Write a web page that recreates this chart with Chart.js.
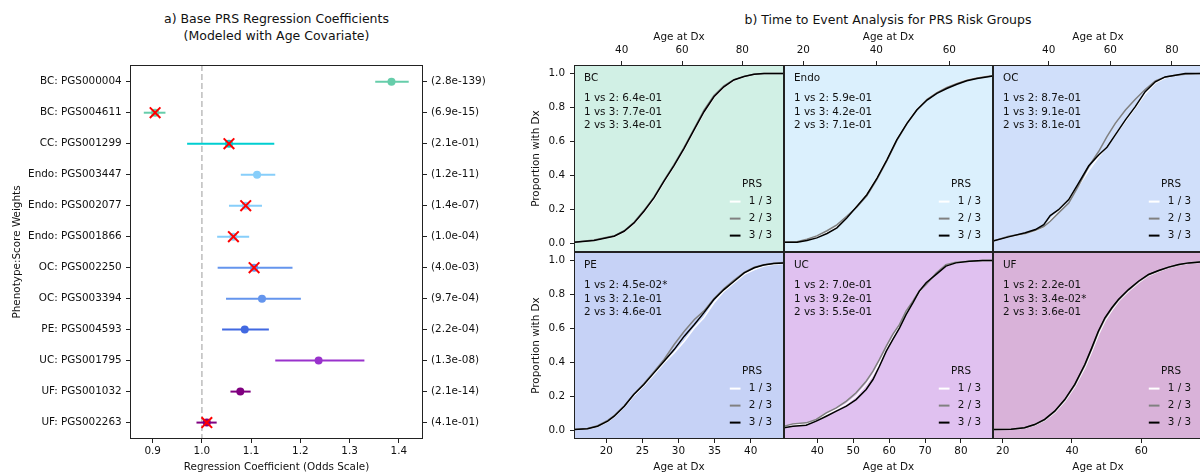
<!DOCTYPE html>
<html><head><meta charset="utf-8">
<script src="https://cdn.jsdelivr.net/npm/chart.js@4.4.0/dist/chart.umd.min.js"></script>
<style>
html,body{margin:0;padding:0;background:#fff;overflow:hidden;}
#wrap{position:relative;width:1200px;height:474px;overflow:hidden;font-family:'DejaVu Sans',sans-serif;background:#fff;}
canvas{position:absolute;}
.ttl{position:absolute;font-size:12.5px;line-height:16.7px;text-align:center;color:#111;white-space:nowrap;}
</style></head><body>
<div id="wrap">
<div class="ttl" style="left:0;width:553px;top:11px;">a) Base PRS Regression Coefficients<br>(Modeled with Age Covariate)</div>
<div class="ttl" style="left:588px;width:600px;top:11.7px;">b) Time to Event Analysis for PRS Risk Groups</div>
<canvas id="forest" width="515" height="474" style="left:0;top:0;width:515px;height:474px"></canvas>
<canvas id="kmBC" width="264" height="252" style="left:520px;top:0;width:264px;height:252px"></canvas>
<canvas id="kmEndo" width="209" height="252" style="left:784px;top:0;width:209px;height:252px"></canvas>
<canvas id="kmOC" width="210" height="252" style="left:993px;top:0;width:210px;height:252px"></canvas>
<canvas id="kmPE" width="264" height="222" style="left:520px;top:252px;width:264px;height:222px"></canvas>
<canvas id="kmUC" width="209" height="222" style="left:784px;top:252px;width:209px;height:222px"></canvas>
<canvas id="kmUF" width="210" height="222" style="left:993px;top:252px;width:210px;height:222px"></canvas>
</div>
<script>
// ---------------- DATA: panel a (forest plot) ----------------
const forestLabels = ['BC: PGS000004','BC: PGS004611','CC: PGS001299','Endo: PGS003447','Endo: PGS002077','Endo: PGS001866','OC: PGS002250','OC: PGS003394','PE: PGS004593','UC: PGS001795','UF: PGS001032','UF: PGS002263'];
const forestPvals = ['(2.8e-139)','(6.9e-15)','(2.1e-01)','(1.2e-11)','(1.4e-07)','(1.0e-04)','(4.0e-03)','(9.7e-04)','(2.2e-04)','(1.3e-08)','(2.1e-14)','(4.1e-01)'];
const forestPheno = ['BC','BC','CC','Endo','Endo','Endo','OC','OC','PE','UC','UF','UF'];
const forestCoef = [1.385, 0.905, 1.055, 1.112, 1.089, 1.064, 1.106, 1.122, 1.087, 1.237, 1.078, 1.010];
const forestLow  = [1.352, 0.882, 0.970, 1.079, 1.055, 1.031, 1.032, 1.049, 1.041, 1.149, 1.058, 0.989];
const forestHigh = [1.420, 0.926, 1.147, 1.149, 1.122, 1.096, 1.184, 1.201, 1.136, 1.330, 1.099, 1.030];
const forestFlag = [false, true, true, false, true, true, true, false, false, false, false, true];
const forestXTicks = [0.9, 1.0, 1.1, 1.2, 1.3, 1.4];
const nullOdds = 1.0;

// ---------------- DATA: panel b (time to event) ----------------
const prsGroups = ['1 / 3', '2 / 3', '3 / 3'];
const propTicks = [0, 0.2, 0.4, 0.6, 0.8, 1.0];

const bcAge  = [24.2, 30.8, 37.5, 40.8, 44.1, 47.4, 50.7, 54.0, 57.3, 60.7, 64.0, 67.3, 70.6, 73.9, 77.2, 80.6, 83.9, 87.2, 93.8];
const bcPRS1 = [0.007, 0.017, 0.040, 0.068, 0.117, 0.185, 0.262, 0.360, 0.452, 0.555, 0.662, 0.770, 0.857, 0.918, 0.960, 0.981, 0.994, 1.0, 1.0];
const bcPRS2 = [0.008, 0.020, 0.045, 0.075, 0.125, 0.195, 0.273, 0.370, 0.462, 0.566, 0.675, 0.784, 0.870, 0.927, 0.964, 0.983, 0.995, 1.0, 1.0];
const bcPRS3 = [0.008, 0.018, 0.043, 0.072, 0.121, 0.190, 0.268, 0.365, 0.457, 0.560, 0.668, 0.775, 0.863, 0.922, 0.962, 0.982, 0.995, 1.0, 1.0];
const bcTests = ['1 vs 2: 6.4e-01', '1 vs 3: 7.7e-01', '2 vs 3: 3.4e-01'];
const bcAgeTicks = [40, 60, 80];

const endoAge  = [14.7, 18.3, 21.0, 23.7, 26.5, 29.2, 31.9, 34.7, 37.4, 40.2, 42.9, 45.6, 48.4, 51.1, 53.9, 56.6, 59.3, 62.1, 64.8, 67.6, 72.0];
const endoPRS1 = [0.008, 0.009, 0.020, 0.038, 0.065, 0.098, 0.152, 0.222, 0.292, 0.390, 0.497, 0.612, 0.710, 0.790, 0.850, 0.890, 0.920, 0.944, 0.963, 0.977, 0.990];
const endoPRS2 = [0.008, 0.010, 0.025, 0.045, 0.075, 0.110, 0.160, 0.215, 0.280, 0.378, 0.487, 0.605, 0.705, 0.787, 0.848, 0.888, 0.918, 0.942, 0.960, 0.974, 0.988];
const endoPRS3 = [0.008, 0.008, 0.018, 0.033, 0.059, 0.092, 0.150, 0.219, 0.287, 0.385, 0.492, 0.609, 0.707, 0.785, 0.844, 0.883, 0.912, 0.937, 0.957, 0.971, 0.986];
const endoTests = ['1 vs 2: 5.9e-01', '1 vs 3: 4.2e-01', '2 vs 3: 7.1e-01'];
const endoAgeTicks = [20, 40, 60];

const ocAge  = [21.9, 27.0, 32.4, 35.7, 38.4, 40.5, 43.2, 46.5, 49.7, 53.0, 56.2, 58.9, 61.6, 64.9, 68.1, 71.3, 74.6, 77.8, 81.1, 84.3, 89.5];
const ocPRS1 = [0.014, 0.039, 0.059, 0.075, 0.098, 0.140, 0.190, 0.260, 0.340, 0.430, 0.510, 0.570, 0.640, 0.720, 0.800, 0.880, 0.945, 0.975, 0.990, 0.998, 1.0];
const ocPRS2 = [0.014, 0.043, 0.059, 0.078, 0.100, 0.131, 0.180, 0.238, 0.340, 0.453, 0.541, 0.629, 0.707, 0.785, 0.848, 0.906, 0.957, 0.980, 0.990, 0.995, 1.0];
const ocPRS3 = [0.014, 0.039, 0.063, 0.082, 0.111, 0.164, 0.199, 0.258, 0.355, 0.457, 0.521, 0.566, 0.639, 0.727, 0.805, 0.893, 0.951, 0.980, 0.990, 1.0, 1.0];
const ocTests = ['1 vs 2: 8.7e-01', '1 vs 3: 9.1e-01', '2 vs 3: 8.1e-01'];
const ocAgeTicks = [40, 60, 80];

const peAge  = [15.5, 17.4, 18.8, 20.2, 21.1, 22.5, 23.8, 25.2, 26.6, 28.0, 29.4, 30.8, 32.2, 33.5, 34.9, 36.3, 37.7, 39.1, 40.5, 41.8, 43.2, 44.6];
const pePRS1 = [0.006, 0.010, 0.024, 0.052, 0.082, 0.140, 0.205, 0.265, 0.330, 0.398, 0.457, 0.525, 0.604, 0.663, 0.751, 0.820, 0.869, 0.918, 0.947, 0.967, 0.978, 0.983];
const pePRS2 = [0.006, 0.012, 0.028, 0.060, 0.088, 0.145, 0.212, 0.275, 0.345, 0.418, 0.506, 0.584, 0.653, 0.702, 0.775, 0.835, 0.885, 0.930, 0.960, 0.975, 0.984, 0.988];
const pePRS3 = [0.006, 0.010, 0.025, 0.055, 0.084, 0.143, 0.212, 0.271, 0.339, 0.408, 0.476, 0.555, 0.624, 0.692, 0.771, 0.829, 0.878, 0.927, 0.957, 0.973, 0.982, 0.986];
const peTests = ['1 vs 2: 4.5e-02*', '1 vs 3: 2.1e-01', '2 vs 3: 4.6e-01'];
const peAgeTicks = [20, 25, 30, 35, 40];

const ucAge  = [30.7, 33.2, 36.9, 39.7, 42.5, 45.3, 48.1, 50.8, 53.6, 55.5, 57.3, 59.2, 61.0, 62.9, 64.7, 66.6, 68.4, 70.3, 73.1, 75.8, 78.6, 82.3, 86.0, 88.9];
const ucPRS1 = [0.020, 0.031, 0.039, 0.059, 0.094, 0.124, 0.157, 0.202, 0.271, 0.329, 0.398, 0.476, 0.545, 0.614, 0.692, 0.755, 0.816, 0.863, 0.922, 0.971, 0.988, 0.996, 1.0, 1.0];
const ucPRS2 = [0.025, 0.039, 0.045, 0.065, 0.104, 0.133, 0.173, 0.222, 0.290, 0.349, 0.418, 0.496, 0.565, 0.624, 0.702, 0.761, 0.820, 0.859, 0.927, 0.976, 0.990, 0.996, 1.0, 1.0];
const ucPRS3 = [0.016, 0.025, 0.031, 0.055, 0.084, 0.114, 0.143, 0.182, 0.241, 0.300, 0.378, 0.467, 0.535, 0.604, 0.682, 0.751, 0.820, 0.869, 0.918, 0.967, 0.986, 0.996, 1.0, 1.0];
const ucTests = ['1 vs 2: 7.0e-01', '1 vs 3: 9.2e-01', '2 vs 3: 5.5e-01'];
const ucAgeTicks = [40, 50, 60, 70, 80];

const ufAge  = [17.2, 22.4, 26.3, 29.2, 32.1, 35.0, 37.9, 40.8, 43.7, 45.7, 47.6, 49.5, 51.5, 53.4, 56.3, 59.2, 62.1, 65.0, 67.9, 70.8, 73.7, 77.8];
const ufPRS1 = [0.006, 0.008, 0.015, 0.032, 0.060, 0.106, 0.172, 0.258, 0.370, 0.465, 0.562, 0.645, 0.707, 0.760, 0.820, 0.870, 0.912, 0.937, 0.958, 0.974, 0.985, 0.991];
const ufPRS2 = [0.006, 0.008, 0.016, 0.034, 0.063, 0.112, 0.179, 0.267, 0.383, 0.480, 0.578, 0.657, 0.717, 0.767, 0.826, 0.876, 0.916, 0.940, 0.960, 0.975, 0.986, 0.992];
const ufPRS3 = [0.006, 0.008, 0.016, 0.035, 0.065, 0.114, 0.182, 0.271, 0.388, 0.486, 0.584, 0.663, 0.722, 0.771, 0.829, 0.878, 0.918, 0.941, 0.961, 0.976, 0.986, 0.992];
const ufTests = ['1 vs 2: 2.2e-01', '1 vs 3: 3.4e-02*', '2 vs 3: 3.6e-01'];
const ufAgeTicks = [20, 40, 60];

// ---------------- STYLE ----------------
const phenoColors = {BC:'#66cdaa', CC:'#00ced1', Endo:'#87cefa', OC:'#6495ed', PE:'#4169e1', UC:'#9932cc', UF:'#800080'};
const phenoBg = {BC:'rgba(102,205,170,0.3)', Endo:'rgba(135,206,250,0.3)', OC:'rgba(100,149,237,0.3)', PE:'rgba(65,105,225,0.3)', UC:'rgba(153,50,204,0.3)', UF:'rgba(128,0,128,0.3)'};
const prsColors = ['#ffffff', '#808080', '#000000'];
const FONT = "'DejaVu Sans', sans-serif";
const FS = 10.42;

Chart.defaults.font.family = FONT;
Chart.defaults.font.size = FS;
Chart.defaults.color = '#111';
Chart.defaults.animation = false;

const frame = {
  id: 'frame',
  afterDatasetsDraw(chart) {
    const {ctx, chartArea: a} = chart;
    ctx.save();
    ctx.strokeStyle = '#222';
    ctx.lineWidth = 1;
    ctx.strokeRect(a.left + 0.5, a.top + 0.5, a.width - 1, a.height - 1);
    ctx.restore();
  }
};
const panelBg = {
  id: 'panelBg',
  beforeDraw(chart, args, opts) {
    if (!opts || !opts.color) return;
    const {ctx, chartArea: a} = chart;
    ctx.save();
    ctx.fillStyle = opts.color;
    ctx.fillRect(a.left, a.top, a.width, a.height);
    ctx.restore();
  }
};
const panelText = {
  id: 'panelText',
  afterDraw(chart, args, opts) {
    if (!opts || !opts.name) return;
    const {ctx, chartArea: a} = chart;
    ctx.save();
    ctx.font = FS + 'px ' + FONT;
    ctx.fillStyle = '#111';
    ctx.textBaseline = 'middle';
    ctx.textAlign = 'left';
    ctx.fillText(opts.name, a.left + 10, a.top + 13.3);
    opts.tests.forEach((t, i) => ctx.fillText(t, a.left + 10, a.top + 33.3 + i * 13.6));
    ctx.textAlign = 'center';
    ctx.fillText('PRS', a.right - 32, a.bottom - 67.6);
    chart.data.datasets.forEach((d, i) => {
      const y = a.bottom - 50.4 + i * 17;
      ctx.strokeStyle = d.borderColor;
      ctx.lineWidth = 2;
      ctx.beginPath();
      ctx.moveTo(a.right - 54.2, y);
      ctx.lineTo(a.right - 43.5, y);
      ctx.stroke();
      ctx.textAlign = 'left';
      ctx.fillStyle = '#111';
      ctx.fillText(d.label, a.right - 35.2, y);
    });
    ctx.restore();
  }
};

// ---------------- Panel a ----------------
(function(){
  const rows = forestLabels.map((_, i) => i);
  const yMin = -0.54, yMax = 11.53;
  const datasets = [];
  datasets.push({
    type: 'scatter', showLine: true, data: [{x: nullOdds, y: yMin}, {x: nullOdds, y: yMax}],
    borderColor: '#bdbdbd', borderWidth: 1.5, borderDash: [6, 3], pointRadius: 0, order: 10
  });
  rows.forEach(i => {
    datasets.push({
      type: 'scatter', showLine: true,
      data: [{x: forestLow[i], y: i}, {x: forestHigh[i], y: i}],
      borderColor: phenoColors[forestPheno[i]], borderWidth: 2, pointRadius: 0, order: 5
    });
  });
  datasets.push({
    type: 'scatter', data: rows.map(i => ({x: forestCoef[i], y: i})),
    pointBackgroundColor: rows.map(i => phenoColors[forestPheno[i]]),
    backgroundColor: rows.map(i => phenoColors[forestPheno[i]]),
    pointBorderWidth: 0, borderWidth: 0, pointRadius: 4, order: 3
  });
  datasets.push({
    type: 'scatter', data: rows.filter(i => forestFlag[i]).map(i => ({x: forestCoef[i], y: i})),
    pointStyle: 'crossRot', pointRadius: 7.5, borderColor: '#ff0000', pointBorderColor: '#ff0000',
    pointBorderWidth: 2, borderWidth: 2, order: 1
  });
  const tickGrid = {drawOnChartArea: false, drawTicks: true, tickLength: 4, tickColor: '#222', color: '#222'};
  new Chart(document.getElementById('forest'), {
    type: 'scatter',
    data: {datasets},
    options: {
      responsive: false, devicePixelRatio: 1, animation: false,
      layout: {padding: {top: 65, left: 0, right: 0, bottom: 0}},
      plugins: {legend: {display: false}, tooltip: {enabled: false}},
      scales: {
        x: {
          type: 'linear', position: 'bottom', min: 0.854, max: 1.449,
          afterBuildTicks: s => { s.ticks = forestXTicks.map(v => ({value: v})); },
          afterFit: s => { s.height = 35; s.paddingLeft = 0; s.paddingRight = 0; },
          ticks: {callback: v => v.toFixed(1), padding: 2.45, autoSkip: false, maxRotation: 0},
          grid: tickGrid, border: {display: false},
          title: {display: true, text: 'Regression Coefficient (Odds Scale)', padding: {top: 0, bottom: 0.45}}
        },
        y: {
          type: 'linear', position: 'left', reverse: true, min: yMin, max: yMax,
          afterBuildTicks: s => { s.ticks = rows.map(v => ({value: v})); },
          afterFit: s => { s.width = 130; s.paddingTop = 0; s.paddingBottom = 0; },
          ticks: {callback: v => forestLabels[v], padding: 4.3, autoSkip: false},
          grid: tickGrid, border: {display: false},
          title: {display: true, text: 'Phenotype:Score Weights', padding: {top: 11.3, bottom: 0}}
        },
        y2: {
          type: 'linear', position: 'right', reverse: true, min: yMin, max: yMax,
          afterBuildTicks: s => { s.ticks = rows.map(v => ({value: v})); },
          afterFit: s => { s.width = 92; s.paddingTop = 0; s.paddingBottom = 0; },
          ticks: {callback: v => forestPvals[v], padding: 4, autoSkip: false},
          grid: tickGrid, border: {display: false}
        }
      }
    },
    plugins: [frame]
  });
})();

// ---------------- Panel b ----------------
const kmPanels = [
  {id: 'kmBC',   name: 'BC',   row: 0, col: 0, range: [24.18, 93.83], age: bcAge,   s: [bcPRS1, bcPRS2, bcPRS3],       tests: bcTests,   ticks: bcAgeTicks},
  {id: 'kmEndo', name: 'Endo', row: 0, col: 1, range: [14.71, 71.97], age: endoAge, s: [endoPRS1, endoPRS2, endoPRS3], tests: endoTests, ticks: endoAgeTicks},
  {id: 'kmOC',   name: 'OC',   row: 0, col: 2, range: [21.93, 90.06], age: ocAge,   s: [ocPRS1, ocPRS2, ocPRS3],       tests: ocTests,   ticks: ocAgeTicks},
  {id: 'kmPE',   name: 'PE',   row: 1, col: 0, range: [15.53, 44.61], age: peAge,   s: [pePRS1, pePRS2, pePRS3],       tests: peTests,   ticks: peAgeTicks},
  {id: 'kmUC',   name: 'UC',   row: 1, col: 1, range: [30.73, 88.91], age: ucAge,   s: [ucPRS1, ucPRS2, ucPRS3],       tests: ucTests,   ticks: ucAgeTicks},
  {id: 'kmUF',   name: 'UF',   row: 1, col: 2, range: [17.2, 77.81],  age: ufAge,   s: [ufPRS1, ufPRS2, ufPRS3],       tests: ufTests,   ticks: ufAgeTicks}
];

kmPanels.forEach(p => {
  const top = p.row === 0;
  const showY = p.col === 0;
  const tickGrid = {drawOnChartArea: false, drawTicks: true, tickLength: 4, tickColor: '#222', color: '#222'};
  const datasets = p.s.map((series, g) => ({
    label: prsGroups[g],
    data: p.age.map((a, i) => ({x: a, y: series[i]})),
    showLine: true, pointRadius: 0, borderWidth: 1.5, tension: 0,
    borderColor: prsColors[g], order: 3 - g
  }));
  new Chart(document.getElementById(p.id), {
    type: 'scatter',
    data: {datasets},
    options: {
      responsive: false, devicePixelRatio: 1, animation: false,
      layout: {padding: 0},
      plugins: {
        legend: {display: false}, tooltip: {enabled: false},
        panelBg: {color: phenoBg[p.name]},
        panelText: {name: p.name, tests: p.tests}
      },
      scales: {
        x: {
          type: 'linear', position: top ? 'top' : 'bottom', min: p.range[0], max: p.range[1],
          afterBuildTicks: s => { s.ticks = p.ticks.map(v => ({value: v})); },
          afterFit: s => { s.height = top ? 65 : 35; s.paddingLeft = 0; s.paddingRight = 0; },
          ticks: {callback: v => String(v), padding: top ? 4.75 : 2.45, autoSkip: false, maxRotation: 0},
          grid: tickGrid, border: {display: false},
          title: {display: true, text: 'Age at Dx', padding: top ? {top: 31.45, bottom: 0} : {top: 0, bottom: 0.05}}
        },
        y: {
          type: 'linear', position: 'left', display: showY, min: -0.05, max: 1.05,
          afterBuildTicks: s => { s.ticks = propTicks.map(v => ({value: v})); },
          afterFit: s => { s.width = showY ? 54 : 0; s.paddingTop = 0; s.paddingBottom = 0; },
          ticks: {callback: v => v.toFixed(1), padding: 5, autoSkip: false},
          grid: tickGrid, border: {display: false},
          title: {display: true, text: 'Proportion with Dx', padding: {top: 10.45, bottom: 0}}
        }
      }
    },
    plugins: [panelBg, frame, panelText]
  });
});
</script>
</body></html>
